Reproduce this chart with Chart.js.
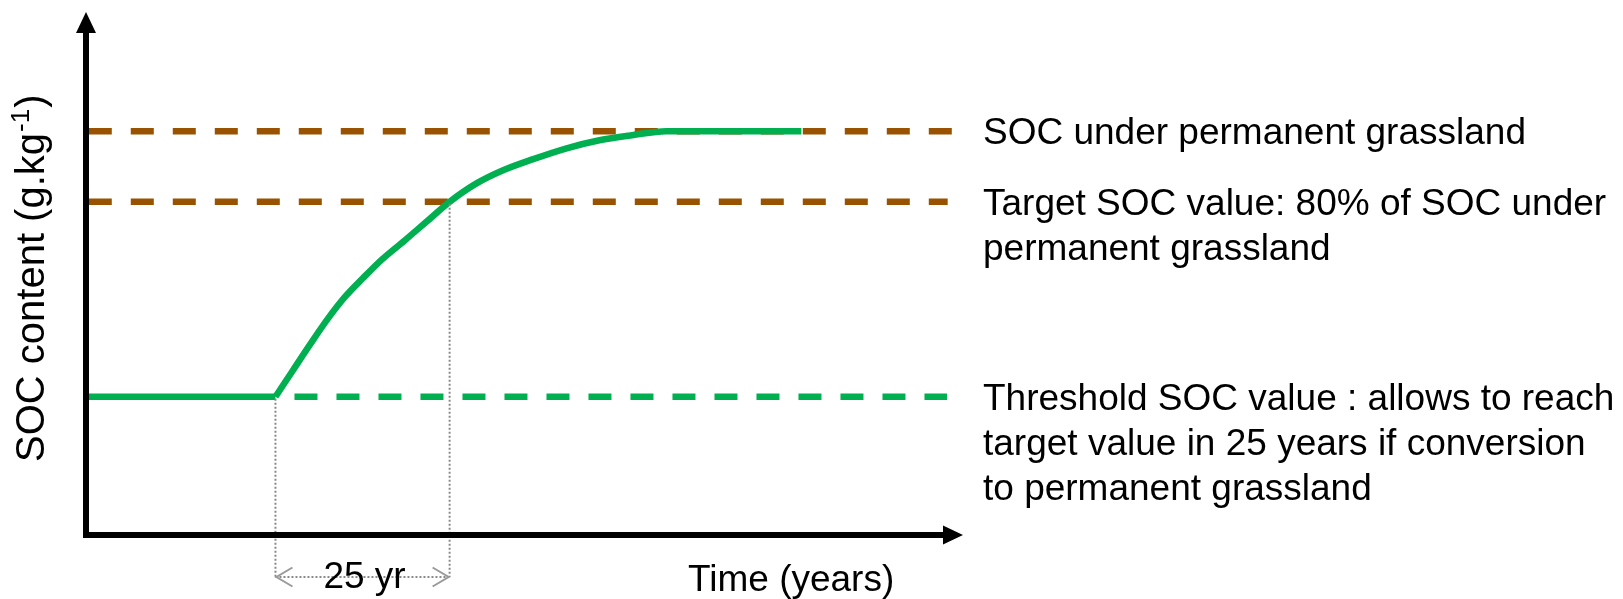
<!DOCTYPE html>
<html>
<head>
<meta charset="utf-8">
<script src="https://cdn.jsdelivr.net/npm/chart.js@4/dist/chart.umd.min.js"></script>
<style>
  html, body { margin: 0; padding: 0; background: #ffffff; }
  canvas { display: block; }
</style>
</head>
<body>
<canvas id="c" width="1623" height="599"></canvas>
<script>
// ---------------- data ----------------
// time in years, SOC in arbitrary g/kg units
const flatYears  = [0, 27.2];
const flatSoc    = [13.7, 13.7];
const curveYears = [27.2, 29.6, 32.2, 34.7, 37.2, 39.7, 42.5, 45.8, 49.0, 52.2, 56.0, 59.8, 64.1, 69.0, 73.7, 78.4, 83.3, 102.7];
const curveSoc   = [13.7, 16.2, 18.9, 21.4, 23.6, 25.4, 27.3, 29.2, 31.1, 33.0, 34.8, 36.1, 37.2, 38.3, 39.1, 39.6, 40.0, 40.0];

const refNames  = ['SOC under permanent grassland', 'Target SOC value', 'Threshold SOC value'];
const refValues = [40, 33, 13.7];
const refStart  = [0.4, 0.4, 27.2];
const refEnd    = [124.7, 123.7, 123.6];
const refLabels = [
  ['SOC under permanent grassland'],
  ['Target SOC value: 80% of SOC under', 'permanent grassland'],
  ['Threshold SOC value : allows to reach', 'target value in 25 years if conversion', 'to permanent grassland']
];

const conversionYear = 27.2;
const targetYear = 52.2;
const spanLabel = '25 yr';
const xTitle = 'Time (years)';
const yTitleMain = 'SOC content (g.kg';
const yTitleSup = '-1';
const yTitleEnd = ')';

const xMin = 0, xMax = 125.9;
const yMin = 0, yMax = 51.7;

// ---------------- styles ----------------
const GREEN = '#00b050';
const BROWN = '#995200';
const FONT = "'Liberation Sans', Arial, Helvetica, sans-serif";

function pts(xs, ys) { return xs.map((v, i) => ({ x: v, y: ys[i] })); }

const datasets = [];
refValues.forEach((v, i) => {
  const isThreshold = i === 2;
  datasets.push({
    label: refNames[i],
    data: pts([refStart[i], refEnd[i]], [v, v]),
    borderColor: isThreshold ? GREEN : BROWN,
    borderWidth: 6.5,
    borderDash: [23, 19],
    borderDashOffset: isThreshold ? 23 : 0,
    borderCapStyle: 'butt',
    pointRadius: 0,
    tension: 0,
    clip: false,
    order: 2
  });
});
datasets.push({
  label: 'SOC before conversion',
  data: pts(flatYears, flatSoc),
  borderColor: GREEN,
  borderWidth: 6.5,
  pointRadius: 0,
  tension: 0,
  clip: false,
  order: 1
});
datasets.push({
  label: 'SOC after conversion to permanent grassland',
  data: pts(curveYears, curveSoc),
  borderColor: GREEN,
  borderWidth: 6.5,
  pointRadius: 0,
  cubicInterpolationMode: 'monotone',
  borderJoinStyle: 'round',
  clip: false,
  order: 0
});

const overlay = {
  id: 'overlay',
  afterDatasetsDraw(chart) {
    const { ctx, chartArea: ca, scales: { x, y } } = chart;
    const X = v => x.getPixelForValue(v);
    const Y = v => y.getPixelForValue(v);
    ctx.save();

    // dotted guides for the 25-year span
    const gy = ca.bottom + 42;
    const xc = X(conversionYear), xt = X(targetYear);
    ctx.strokeStyle = '#8a8a8a';
    ctx.lineWidth = 2;
    ctx.setLineDash([2, 2]);
    ctx.beginPath();
    ctx.moveTo(xc, Y(refValues[2]) + 2); ctx.lineTo(xc, gy);
    ctx.moveTo(xt, Y(refValues[1]) + 2); ctx.lineTo(xt, gy);
    ctx.moveTo(xc, gy); ctx.lineTo(xt, gy);
    ctx.stroke();
    ctx.setLineDash([]);
    ctx.strokeStyle = '#9a9a9a';
    ctx.beginPath();
    ctx.moveTo(xc + 17, gy - 9.5); ctx.lineTo(xc + 1, gy); ctx.lineTo(xc + 17, gy + 9.5);
    ctx.moveTo(xt - 17, gy - 9.5); ctx.lineTo(xt - 1, gy); ctx.lineTo(xt - 17, gy + 9.5);
    ctx.stroke();

    // axes with arrow heads
    const ox = ca.left, oy = ca.bottom;
    ctx.fillStyle = '#000';
    ctx.strokeStyle = '#000';
    ctx.lineWidth = 6;
    ctx.lineCap = 'butt';
    ctx.beginPath();
    ctx.moveTo(ox, oy + 3); ctx.lineTo(ox, ca.top + 19);
    ctx.moveTo(ox - 3, oy); ctx.lineTo(ca.right - 19, oy);
    ctx.stroke();
    ctx.beginPath();
    ctx.moveTo(ox, ca.top - 1); ctx.lineTo(ox + 10, ca.top + 20); ctx.lineTo(ox - 10, ca.top + 20); ctx.closePath();
    ctx.fill();
    ctx.beginPath();
    ctx.moveTo(ca.right, oy); ctx.lineTo(ca.right - 20, oy - 9.5); ctx.lineTo(ca.right - 20, oy + 9.5); ctx.closePath();
    ctx.fill();

    // texts
    ctx.fillStyle = '#000';
    ctx.textBaseline = 'alphabetic';
    ctx.font = '37px ' + FONT;
    ctx.textAlign = 'left';
    const labelX = ca.right + 20;
    refLabels.forEach((lines, i) => {
      const base = Y(refValues[i]) + 13;
      lines.forEach((t, j) => ctx.fillText(t, labelX, base + j * 45));
    });
    ctx.textAlign = 'center';
    ctx.fillText(spanLabel, (xc + xt) / 2 + 2, ca.bottom + 53);
    ctx.textAlign = 'left';
    ctx.fillText(xTitle, 688, ca.bottom + 56);

    // rotated y title with superscript
    ctx.save();
    ctx.translate(44, 462);
    ctx.rotate(-Math.PI / 2);
    ctx.textAlign = 'left';
    ctx.font = '40px ' + FONT;
    ctx.fillText(yTitleMain, 0, 0);
    let w = ctx.measureText(yTitleMain).width;
    ctx.font = '26px ' + FONT;
    ctx.fillText(yTitleSup, w + 1, -15);
    w += ctx.measureText(yTitleSup).width + 2;
    ctx.font = '40px ' + FONT;
    ctx.fillText(yTitleEnd, w, 0);
    ctx.restore();

    ctx.restore();
  }
};

new Chart(document.getElementById('c'), {
  type: 'line',
  data: { datasets },
  options: {
    responsive: false,
    animation: false,
    devicePixelRatio: 1,
    layout: { padding: { left: 86, top: 13, right: 1623 - 963, bottom: 599 - 535 } },
    plugins: { legend: { display: false }, tooltip: { enabled: false }, title: { display: false } },
    scales: {
      x: { type: 'linear', min: xMin, max: xMax, display: false },
      y: { type: 'linear', min: yMin, max: yMax, display: false }
    }
  },
  plugins: [overlay]
});
</script>
</body>
</html>
